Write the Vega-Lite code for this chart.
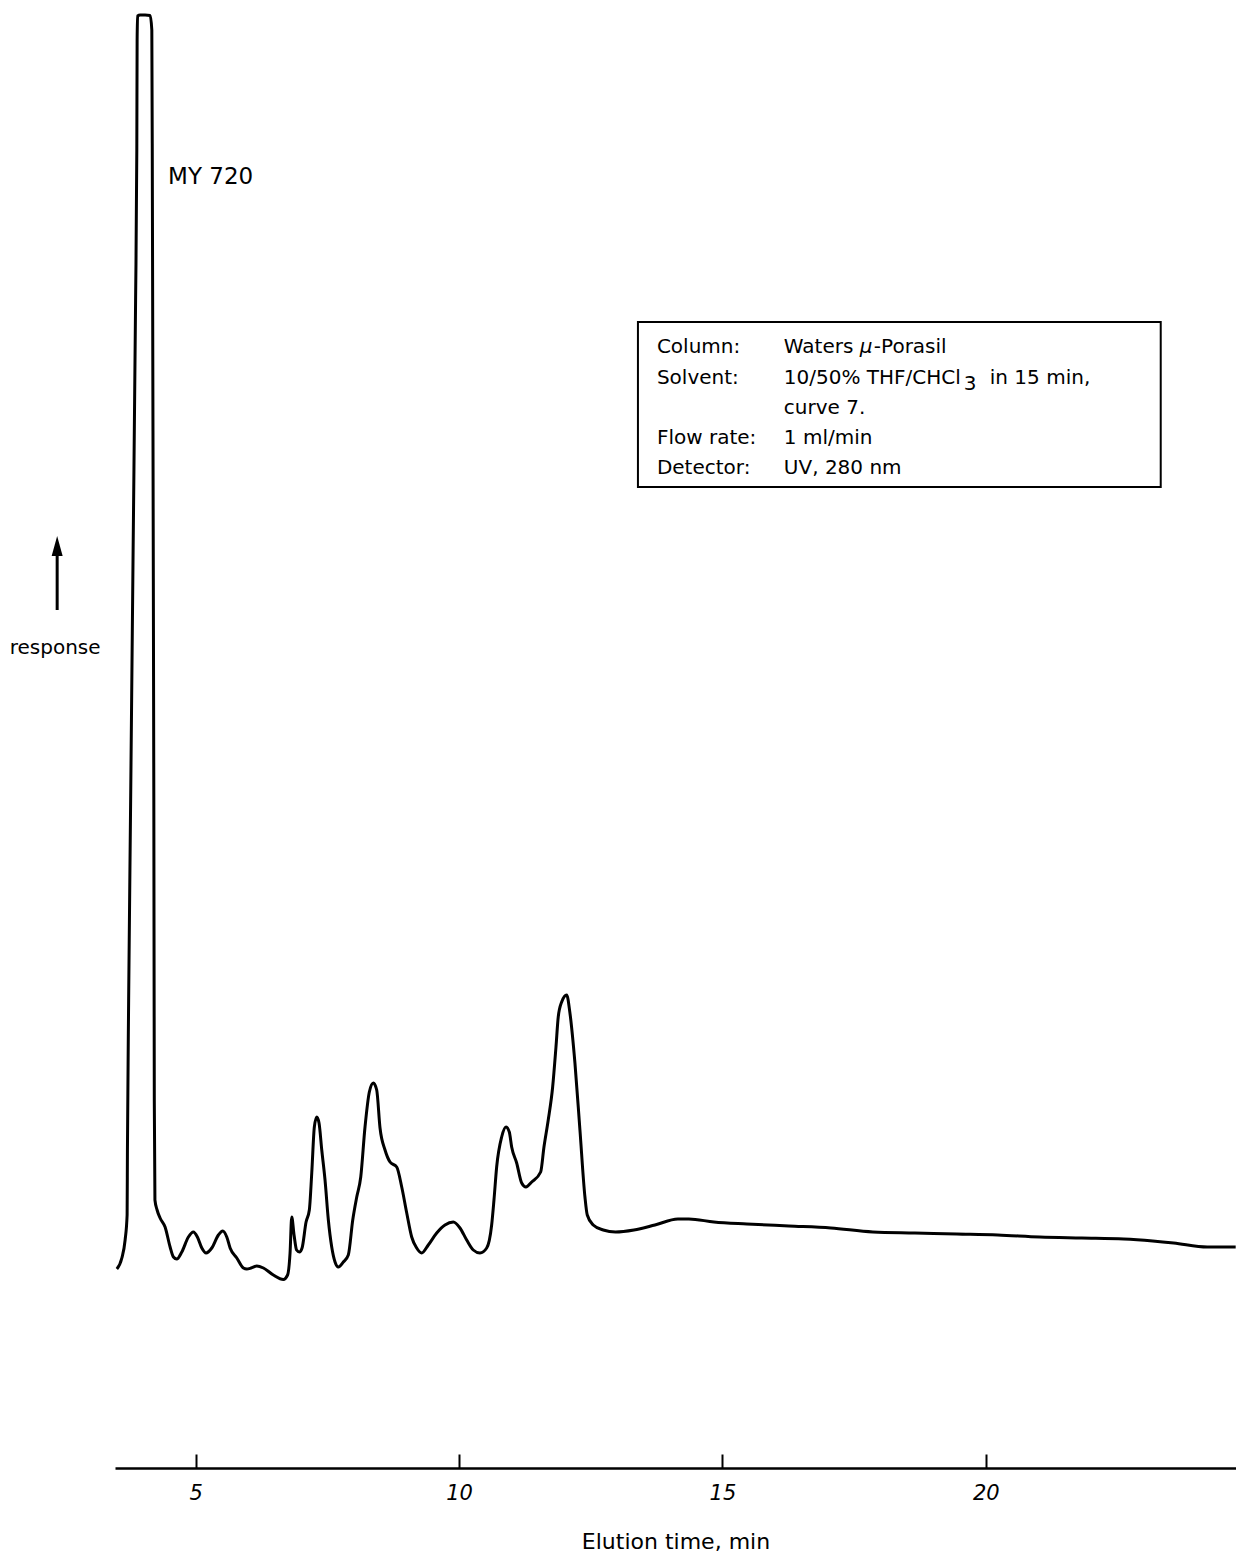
{
  "$schema": "https://vega.github.io/schema/vega-lite/v6.json",
  "width": 1121,
  "height": 1468,
  "autosize": {"type": "none"},
  "padding": {"left": 115, "top": 0, "right": 0, "bottom": 87},
  "background": "white",
  "config": {
    "view": {"stroke": null},
    "font": "DejaVu Sans",
    "text": {"font": "DejaVu Sans", "color": "black"}
  },
  "encoding": {
    "x": {
      "field": "time",
      "type": "quantitative",
      "title": "Elution time, min",
      "scale": {"domain": [3.47, 24.75], "nice": false, "zero": false},
      "axis": {
        "values": [5, 10, 15, 20],
        "grid": false,
        "domainColor": "black",
        "domainWidth": 2.5,
        "tickColor": "black",
        "tickWidth": 2,
        "tickSize": -14,
        "labelFont": "DejaVu Sans",
        "labelFontStyle": "italic",
        "labelFontSize": 21,
        "labelColor": "black",
        "labelPadding": 28,
        "labelFlush": false,
        "titleFont": "DejaVu Sans",
        "titleFontSize": 22,
        "titleFontWeight": "normal",
        "titleColor": "black",
        "titlePadding": 28
      }
    },
    "y": {
      "field": "response",
      "type": "quantitative",
      "scale": {"domain": [0, 146.8], "nice": false, "zero": false},
      "axis": null
    }
  },
  "layer": [
    {
      "data": {"values": [
        {"time": 3.505, "response": 19.9},
        {"time": 3.600, "response": 21.0},
        {"time": 3.662, "response": 22.8},
        {"time": 3.700, "response": 25.3},
        {"time": 3.706, "response": 31.8},
        {"time": 3.729, "response": 46.8},
        {"time": 3.767, "response": 66.8},
        {"time": 3.814, "response": 91.8},
        {"time": 3.861, "response": 116.8},
        {"time": 3.884, "response": 131.8},
        {"time": 3.890, "response": 142.8},
        {"time": 3.899, "response": 145.2},
        {"time": 3.947, "response": 145.3},
        {"time": 4.042, "response": 145.3},
        {"time": 4.137, "response": 145.25},
        {"time": 4.169, "response": 143.8},
        {"time": 4.180, "response": 126.8},
        {"time": 4.194, "response": 96.8},
        {"time": 4.207, "response": 66.8},
        {"time": 4.216, "response": 36.8},
        {"time": 4.228, "response": 26.8},
        {"time": 4.269, "response": 25.8},
        {"time": 4.326, "response": 25.0},
        {"time": 4.421, "response": 24.1},
        {"time": 4.516, "response": 22.1},
        {"time": 4.579, "response": 21.1},
        {"time": 4.643, "response": 20.9},
        {"time": 4.738, "response": 21.6},
        {"time": 4.863, "response": 23.1},
        {"time": 4.958, "response": 23.6},
        {"time": 5.034, "response": 23.1},
        {"time": 5.118, "response": 22.0},
        {"time": 5.199, "response": 21.5},
        {"time": 5.307, "response": 22.0},
        {"time": 5.433, "response": 23.3},
        {"time": 5.516, "response": 23.7},
        {"time": 5.592, "response": 23.1},
        {"time": 5.655, "response": 22.0},
        {"time": 5.782, "response": 21.0},
        {"time": 5.907, "response": 20.0},
        {"time": 5.972, "response": 19.9},
        {"time": 6.053, "response": 20.0},
        {"time": 6.161, "response": 20.2},
        {"time": 6.287, "response": 20.0},
        {"time": 6.476, "response": 19.3},
        {"time": 6.666, "response": 18.85},
        {"time": 6.746, "response": 19.3},
        {"time": 6.793, "response": 21.5},
        {"time": 6.825, "response": 25.1},
        {"time": 6.869, "response": 23.3},
        {"time": 6.917, "response": 21.8},
        {"time": 6.970, "response": 21.6},
        {"time": 7.021, "response": 22.0},
        {"time": 7.097, "response": 24.6},
        {"time": 7.159, "response": 25.8},
        {"time": 7.205, "response": 29.5},
        {"time": 7.254, "response": 34.1},
        {"time": 7.300, "response": 35.1},
        {"time": 7.343, "response": 34.5},
        {"time": 7.395, "response": 31.8},
        {"time": 7.457, "response": 28.8},
        {"time": 7.520, "response": 24.8},
        {"time": 7.584, "response": 22.1},
        {"time": 7.647, "response": 20.6},
        {"time": 7.710, "response": 20.1},
        {"time": 7.805, "response": 20.6},
        {"time": 7.899, "response": 21.3},
        {"time": 7.983, "response": 24.8},
        {"time": 8.059, "response": 27.1},
        {"time": 8.135, "response": 29.1},
        {"time": 8.216, "response": 34.1},
        {"time": 8.298, "response": 37.6},
        {"time": 8.374, "response": 38.5},
        {"time": 8.438, "response": 37.8},
        {"time": 8.501, "response": 34.0},
        {"time": 8.596, "response": 31.8},
        {"time": 8.691, "response": 30.6},
        {"time": 8.818, "response": 30.1},
        {"time": 8.913, "response": 28.1},
        {"time": 9.008, "response": 25.5},
        {"time": 9.102, "response": 23.1},
        {"time": 9.197, "response": 22.0},
        {"time": 9.292, "response": 21.5},
        {"time": 9.417, "response": 22.3},
        {"time": 9.577, "response": 23.5},
        {"time": 9.734, "response": 24.3},
        {"time": 9.892, "response": 24.6},
        {"time": 10.019, "response": 24.0},
        {"time": 10.146, "response": 22.8},
        {"time": 10.271, "response": 21.8},
        {"time": 10.398, "response": 21.5},
        {"time": 10.526, "response": 22.0},
        {"time": 10.620, "response": 24.3},
        {"time": 10.664, "response": 26.8},
        {"time": 10.715, "response": 30.1},
        {"time": 10.810, "response": 33.1},
        {"time": 10.892, "response": 34.1},
        {"time": 10.955, "response": 33.6},
        {"time": 11.000, "response": 32.1},
        {"time": 11.095, "response": 30.5},
        {"time": 11.190, "response": 28.5},
        {"time": 11.271, "response": 28.1},
        {"time": 11.380, "response": 28.6},
        {"time": 11.550, "response": 29.6},
        {"time": 11.613, "response": 32.1},
        {"time": 11.694, "response": 34.8},
        {"time": 11.778, "response": 38.1},
        {"time": 11.841, "response": 42.1},
        {"time": 11.884, "response": 45.1},
        {"time": 11.949, "response": 46.6},
        {"time": 12.044, "response": 47.3},
        {"time": 12.106, "response": 45.5},
        {"time": 12.201, "response": 40.5},
        {"time": 12.296, "response": 33.8},
        {"time": 12.391, "response": 27.1},
        {"time": 12.435, "response": 25.3},
        {"time": 12.548, "response": 24.3},
        {"time": 12.738, "response": 23.8},
        {"time": 12.972, "response": 23.6},
        {"time": 13.321, "response": 23.8},
        {"time": 13.719, "response": 24.3},
        {"time": 14.156, "response": 24.9},
        {"time": 14.364, "response": 24.9},
        {"time": 14.839, "response": 24.6},
        {"time": 15.465, "response": 24.4},
        {"time": 16.262, "response": 24.2},
        {"time": 17.059, "response": 24.0},
        {"time": 17.856, "response": 23.6},
        {"time": 18.653, "response": 23.5},
        {"time": 19.450, "response": 23.4},
        {"time": 20.228, "response": 23.3},
        {"time": 21.025, "response": 23.1},
        {"time": 21.822, "response": 23.0},
        {"time": 22.619, "response": 22.9},
        {"time": 23.169, "response": 22.7},
        {"time": 23.567, "response": 22.5},
        {"time": 24.205, "response": 22.1},
        {"time": 24.744, "response": 22.1}
      ]},
      "mark": {"type": "line", "color": "black", "strokeWidth": 3, "interpolate": "monotone"}
    },
    {
      "data": {"values": [
        {"time": 13.397, "response": 114.6, "time2": 23.321, "response2": 98.1}
      ]},
      "mark": {"type": "rect", "fill": null, "fillOpacity": 0, "stroke": "black", "strokeWidth": 2},
      "encoding": {"x2": {"field": "time2"}, "y2": {"field": "response2"}}
    },
    {
      "data": {"values": [
        {"time": 13.757, "response": 112.1, "label": "Column:"},
        {"time": 13.757, "response": 109.0, "label": "Solvent:"},
        {"time": 13.757, "response": 103.0, "label": "Flow rate:"},
        {"time": 13.757, "response": 100.0, "label": "Detector:"},
        {"time": 16.167, "response": 112.1, "label": "Waters"},
        {"time": 17.875, "response": 112.1, "label": "-Porasil"},
        {"time": 16.167, "response": 109.0, "label": "10/50% THF/CHCl"},
        {"time": 19.583, "response": 108.4, "label": "3"},
        {"time": 20.076, "response": 109.0, "label": "in 15 min,"},
        {"time": 16.167, "response": 106.0, "label": "curve 7."},
        {"time": 16.167, "response": 103.0, "label": "1 ml/min"},
        {"time": 16.167, "response": 100.0, "label": "UV, 280 nm"}
      ]},
      "mark": {"type": "text", "align": "left", "baseline": "middle", "fontSize": 20, "font": "DejaVu Sans", "color": "black"},
      "encoding": {"text": {"field": "label"}}
    },
    {
      "data": {"values": [
        {"time": 17.609, "response": 112.1, "label": "µ"}
      ]},
      "mark": {"type": "text", "align": "left", "baseline": "middle", "fontSize": 20, "fontStyle": "italic", "font": "DejaVu Sans", "color": "black"},
      "encoding": {"text": {"field": "label"}}
    },
    {
      "data": {"values": [
        {"time": 4.478, "response": 129.1, "label": "MY 720"}
      ]},
      "mark": {"type": "text", "align": "left", "baseline": "middle", "fontSize": 23, "font": "DejaVu Sans", "color": "black"},
      "encoding": {"text": {"field": "label"}}
    },
    {
      "data": {"values": [
        {"time": 2.334, "response": 82.0, "label": "response"}
      ]},
      "mark": {"type": "text", "align": "center", "baseline": "middle", "fontSize": 20, "font": "DejaVu Sans", "color": "black"},
      "encoding": {"text": {"field": "label"}}
    },
    {
      "data": {"values": [
        {"time": 2.372, "response": 85.8, "response2": 91.8}
      ]},
      "mark": {"type": "rule", "color": "black", "strokeWidth": 3},
      "encoding": {"y2": {"field": "response2"}}
    },
    {
      "data": {"values": [
        {"time": 2.372, "response": 92.2}
      ]},
      "mark": {"type": "point", "shape": "M0,-1L0.55,1L-0.55,1Z", "size": 400, "filled": true, "color": "black", "opacity": 1, "strokeWidth": 0}
    }
  ]
}
